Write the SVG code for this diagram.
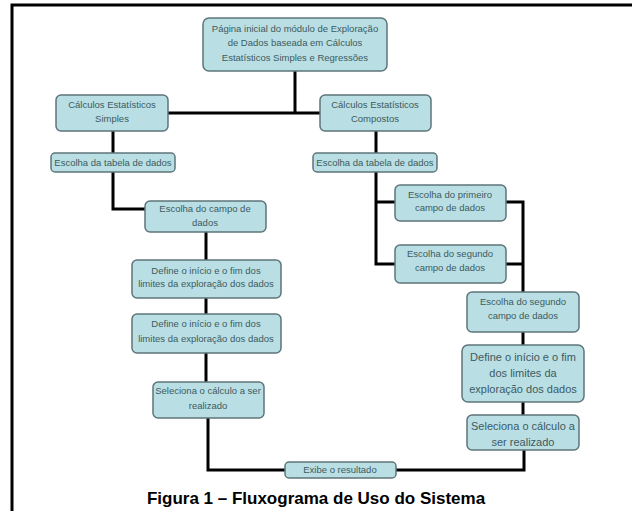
<svg xmlns="http://www.w3.org/2000/svg" width="632" height="511" viewBox="0 0 632 511">
<style>
.box{fill:#b9dfe4;stroke:#5e767a;stroke-width:1.5}
.t{font-family:"Liberation Sans",Arial,sans-serif;font-size:9.5px;fill:#3d5a60;text-anchor:middle}
.tl{font-family:"Liberation Sans",Arial,sans-serif;font-size:11px;fill:#3d5a60;text-anchor:middle}
.c{fill:none;stroke:#000;stroke-width:3}
.cap{font-family:"Liberation Sans",Arial,sans-serif;font-size:17px;font-weight:bold;fill:#000;text-anchor:middle}
</style>
<rect width="632" height="511" fill="#fff"/>
<path d="M12,511 V5 H632" fill="none" stroke="#000" stroke-width="3"/>
<g id="connectors" class="c">
<path d="M295,71 V113"/>
<path d="M168,113 H320"/>
<path d="M113,131 V153"/>
<path d="M113,172 V209 H145"/>
<path d="M206,232 V260"/>
<path d="M206,298 V314"/>
<path d="M206,353 V382"/>
<path d="M208,418 V470 H285"/>
<path d="M396,470 H524 V450"/>
<path d="M376,131 V153"/>
<path d="M376,172 V264 H395"/>
<path d="M376,202 H395"/>
<path d="M506,202 H523 V292"/>
<path d="M506,264 H523"/>
<path d="M523,332 V345"/>
<path d="M523,402 V415"/>
</g>
<g id="n1"><rect class="box" x="203" y="18" width="184" height="53" rx="6"/>
<text class="t" x="295" y="32">Página inicial do módulo de Exploração</text>
<text class="t" x="295" y="46">de Dados baseada em Cálculos</text>
<text class="t" x="295" y="61">Estatísticos Simples e Regressões</text></g>
<g id="n2"><rect class="box" x="56" y="95" width="112" height="36" rx="5"/>
<text class="t" x="112" y="108">Cálculos Estatísticos</text>
<text class="t" x="112" y="122">Simples</text></g>
<g id="n3"><rect class="box" x="320" y="95" width="111" height="36" rx="5"/>
<text class="t" x="375" y="108">Cálculos Estatísticos</text>
<text class="t" x="375" y="122">Compostos</text></g>
<g id="n4"><rect class="box" x="51" y="153" width="124" height="19" rx="4"/>
<text class="t" x="113" y="166">Escolha da tabela de dados</text></g>
<g id="n5"><rect class="box" x="313" y="153" width="124" height="19" rx="4"/>
<text class="t" x="375" y="166">Escolha da tabela de dados</text></g>
<g id="n6"><rect class="box" x="145" y="201" width="121" height="31" rx="5"/>
<text class="t" x="205" y="212">Escolha do campo de</text>
<text class="t" x="205" y="226">dados</text></g>
<g id="n7"><rect class="box" x="132" y="260" width="149" height="38" rx="5"/>
<text class="t" x="206" y="274">Define o início e o fim dos</text>
<text class="t" x="206" y="287">limites da exploração dos dados</text></g>
<g id="n8"><rect class="box" x="132" y="314" width="149" height="39" rx="5"/>
<text class="t" x="206" y="327">Define o início e o fim dos</text>
<text class="t" x="206" y="342">limites da exploração dos dados</text></g>
<g id="n9"><rect class="box" x="153" y="382" width="111" height="36" rx="5"/>
<text class="t" x="208" y="394">Seleciona o cálculo a ser</text>
<text class="t" x="208" y="409">realizado</text></g>
<g id="n10"><rect class="box" x="285" y="462" width="111" height="16" rx="4"/>
<text class="t" x="340" y="473">Exibe o resultado</text></g>
<g id="n11"><rect class="box" x="395" y="185" width="111" height="36" rx="5"/>
<text class="t" x="450" y="198">Escolha do primeiro</text>
<text class="t" x="450" y="211">campo de dados</text></g>
<g id="n12"><rect class="box" x="395" y="245" width="111" height="38" rx="5"/>
<text class="t" x="450" y="257">Escolha do segundo</text>
<text class="t" x="450" y="271">campo de dados</text></g>
<g id="n13"><rect class="box" x="467" y="292" width="112" height="40" rx="5"/>
<text class="t" x="523" y="305">Escolha do segundo</text>
<text class="t" x="523" y="319">campo de dados</text></g>
<g id="n14"><rect class="box" x="462" y="345" width="122" height="57" rx="6"/>
<text class="tl" x="523" y="361">Define o início e o fim</text>
<text class="tl" x="523" y="377">dos limites da</text>
<text class="tl" x="523" y="393">exploração dos dados</text></g>
<g id="n15"><rect class="box" x="467" y="415" width="112" height="35" rx="5"/>
<text class="tl" x="523" y="430">Seleciona o cálculo a</text>
<text class="tl" x="523" y="446">ser realizado</text></g>
<text class="cap" x="316" y="504">Figura 1 – Fluxograma de Uso do Sistema</text>
</svg>
